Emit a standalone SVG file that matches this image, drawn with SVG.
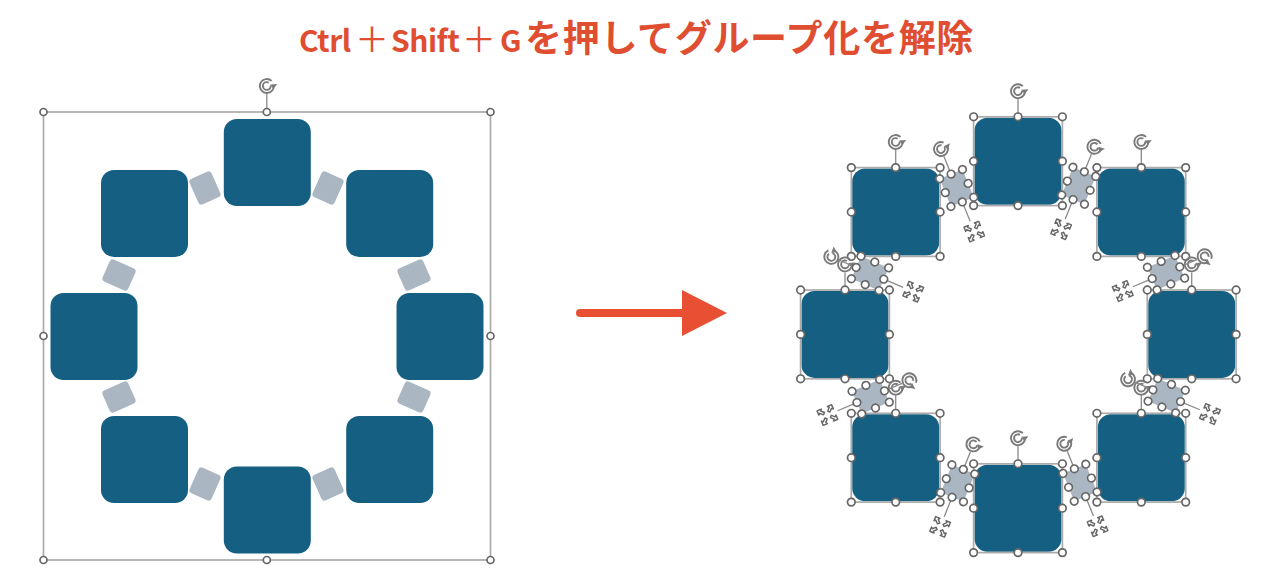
<svg xmlns="http://www.w3.org/2000/svg" width="1280" height="575" viewBox="0 0 1280 575">
<style>
.blue{fill:#156082}
.gray{fill:#ABB6C3}
.box{fill:none;stroke:#ABABAB;stroke-width:1.7}
.ln{fill:none;stroke:#8A8A8A;stroke-width:1.3}
.h{fill:#fff;stroke:#666;stroke-width:1.7}
.ri{fill:none;stroke:#7A7A7A;stroke-width:1.9}
.ra{fill:#7A7A7A}
.mv{fill:#fff;stroke:#666;stroke-width:1.3;stroke-linejoin:round}
.title{font-family:"Noto Sans CJK JP","Noto Sans",sans-serif;font-weight:700;fill:#E04E32}
.lat{font-size:30px;letter-spacing:-.5px}
.pl{font-size:34px;font-weight:400}
.cjk{font-size:37px;letter-spacing:.7px}
</style>
<defs>
<g id="rot">
<circle r="7" class="ri" stroke-dasharray="39 5" transform="rotate(-8)"/>
<circle r="3.9" class="ri" stroke-dasharray="20.5 4" transform="rotate(-8)"/>
<path class="ra" d="M3.5 -1.5L10.5 -2L6.5 3Z"/>
</g>
<g id="mov">
<path class="mv" transform="translate(-4.6 -4.6) scale(1.1)" d="M-3 -3L1.2 -3L0 -1.6L2.6 1L1 2.6L-1.6 0L-3 1.2Z"/>
<path class="mv" transform="translate(4.6 -4.6) scale(-1.1 1.1)" d="M-3 -3L1.2 -3L0 -1.6L2.6 1L1 2.6L-1.6 0L-3 1.2Z"/>
<path class="mv" transform="translate(-4.6 4.6) scale(1.1 -1.1)" d="M-3 -3L1.2 -3L0 -1.6L2.6 1L1 2.6L-1.6 0L-3 1.2Z"/>
<path class="mv" transform="translate(4.6 4.6) scale(-1.1 -1.1)" d="M-3 -3L1.2 -3L0 -1.6L2.6 1L1 2.6L-1.6 0L-3 1.2Z"/>
</g>
<rect id="sq" class="blue" x="-43.5" y="-43.5" width="87" height="87" rx="13"/>
<g id="sqsel">
<use href="#sq"/>
<rect class="box" x="-44.4" y="-44.4" width="88.8" height="88.8"/>
<path class="ln" d="M0 -44.4V-62"/>
<use href="#rot" y="-70"/>
<circle class="h" r="3.8" cx="-44.4" cy="-44.4"/><circle class="h" r="3.8" cx="0" cy="-44.4"/><circle class="h" r="3.8" cx="44.4" cy="-44.4"/>
<circle class="h" r="3.8" cx="-44.4" cy="0"/><circle class="h" r="3.8" cx="44.4" cy="0"/>
<circle class="h" r="3.8" cx="-44.4" cy="44.4"/><circle class="h" r="3.8" cx="0" cy="44.4"/><circle class="h" r="3.8" cx="44.4" cy="44.4"/>
</g>
<rect id="sm" class="gray" x="-12" y="-14" width="24" height="28" rx="3.5"/>
<g id="smsel">
<rect class="gray" x="-12.3" y="-15" width="24.6" height="30" rx="4"/>
<path class="ln" d="M0 -15V-34M0 15V36"/>
<use href="#rot" y="-42"/>
<use href="#mov" y="47"/>
<circle class="h" r="3.8" cx="-12.3" cy="-15"/><circle class="h" r="3.8" cx="0" cy="-15"/><circle class="h" r="3.8" cx="12.3" cy="-15"/>
<circle class="h" r="3.8" cx="-12.3" cy="0"/><circle class="h" r="3.8" cx="12.3" cy="0"/>
<circle class="h" r="3.8" cx="-12.3" cy="15"/><circle class="h" r="3.8" cx="0" cy="15"/><circle class="h" r="3.8" cx="12.3" cy="15"/>
</g>
</defs>
<rect width="1280" height="575" fill="#fff"/>
<text id="title" class="title" y="52"><tspan class="lat" x="299">Ctrl</tspan><tspan class="pl" x="355">＋</tspan><tspan class="lat" x="391">Shift</tspan><tspan class="pl" x="462">＋</tspan><tspan class="lat" x="500">G</tspan><tspan class="cjk" x="525">を押してグループ化を解除</tspan></text>
<g id="left-group">
<g id="l-sm1"><use href="#sm" transform="translate(205 188) rotate(-24)"/></g>
<g id="l-sm2"><use href="#sm" transform="translate(328 188) rotate(24)"/></g>
<g id="l-sm3"><use href="#sm" transform="translate(119 275) rotate(-66)"/></g>
<g id="l-sm4"><use href="#sm" transform="translate(414 275) rotate(66)"/></g>
<g id="l-sm5"><use href="#sm" transform="translate(119 397) rotate(66)"/></g>
<g id="l-sm6"><use href="#sm" transform="translate(414 397) rotate(-66)"/></g>
<g id="l-sm7"><use href="#sm" transform="translate(205 484) rotate(24)"/></g>
<g id="l-sm8"><use href="#sm" transform="translate(328 484) rotate(-24)"/></g>
<g id="l-top"><use href="#sq" x="267.3" y="162.5"/></g>
<g id="l-ul"><use href="#sq" x="144.5" y="213.5"/></g>
<g id="l-ur"><use href="#sq" x="389.7" y="213.5"/></g>
<g id="l-l"><use href="#sq" x="94" y="336.5"/></g>
<g id="l-r"><use href="#sq" x="440" y="336.5"/></g>
<g id="l-ll"><use href="#sq" x="144.5" y="459.5"/></g>
<g id="l-lr"><use href="#sq" x="389.7" y="459.5"/></g>
<g id="l-b"><use href="#sq" x="267.3" y="510"/></g>
<g id="l-selection">
<rect class="box" x="43.5" y="112" width="447" height="448"/>
<path class="ln" d="M266.8 112V93"/>
<use href="#rot" x="266.8" y="86"/>
<circle class="h" r="3.5" cx="43.5" cy="112"/><circle class="h" r="3.5" cx="266.8" cy="112"/><circle class="h" r="3.5" cx="490.5" cy="112"/>
<circle class="h" r="3.5" cx="43.5" cy="336"/><circle class="h" r="3.5" cx="490.5" cy="336"/>
<circle class="h" r="3.5" cx="43.5" cy="560"/><circle class="h" r="3.5" cx="266.8" cy="560"/><circle class="h" r="3.5" cx="490.5" cy="560"/>
</g>
</g>
<g id="connectors">
<path d="M580 313H686" fill="none" stroke="#E84F33" stroke-width="8" stroke-linecap="round"/>
<path d="M682 290L727 313L682 336Z" fill="#E84F33"/>
</g>
<g id="right-group">
<g id="r-top"><use href="#sqsel" x="1018" y="161.2"/></g>
<g id="r-ul"><use href="#sqsel" x="895.7" y="212"/></g>
<g id="r-ur"><use href="#sqsel" x="1141.3" y="212"/></g>
<g id="r-l"><use href="#sqsel" x="845" y="334.4"/></g>
<g id="r-r"><use href="#sqsel" x="1191.7" y="334.4"/></g>
<g id="r-ll"><use href="#sqsel" x="895.7" y="457.7"/></g>
<g id="r-lr"><use href="#sqsel" x="1141.3" y="457.7"/></g>
<g id="r-b"><use href="#sqsel" x="1018" y="508.2"/></g>
<g id="r-sm1"><use href="#smsel" transform="translate(956.7 188) rotate(-22)"/></g>
<g id="r-sm2"><use href="#smsel" transform="translate(1078.7 185.7) rotate(22)"/></g>
<g id="r-sm3"><use href="#smsel" transform="translate(870 273.3) rotate(-67)"/></g>
<g id="r-sm4"><use href="#smsel" transform="translate(1166 272.7) rotate(67)"/></g>
<g id="r-sm5"><use href="#smsel" transform="translate(870.7 396.7) rotate(67)"/></g>
<g id="r-sm6"><use href="#smsel" transform="translate(1166.7 395.7) rotate(-67)"/></g>
<g id="r-sm7"><use href="#smsel" transform="translate(957.7 483.3) rotate(22)"/></g>
<g id="r-sm8"><use href="#smsel" transform="translate(1080 482.7) rotate(-22)"/></g>
</g>
</svg>
